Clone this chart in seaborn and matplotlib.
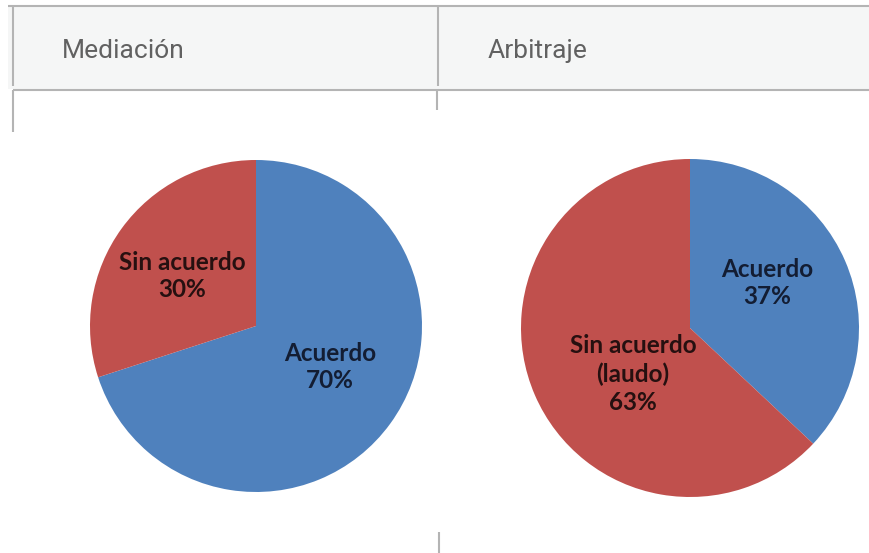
import matplotlib
matplotlib.use("Agg")
import matplotlib.pyplot as plt
import seaborn as sns
from matplotlib.lines import Line2D
from matplotlib.patches import Rectangle

# ---- data ----
panel_titles = ["Mediación", "Arbitraje"]
med_labels = ["Acuerdo", "Sin acuerdo"]
med_values = [70, 30]
arb_labels = ["Acuerdo", "Sin acuerdo\n(laudo)"]
arb_values = [37, 63]

sns.set_style("white")
plt.rcParams["font.family"] = ["Lato", "DejaVu Sans"]

W, H = 869, 553
fig = plt.figure(figsize=(W / 100, H / 100), dpi=100)
fig.patch.set_facecolor("white")

def fx(x):
    return x / W

def fy(y):
    return 1 - y / H

palette = sns.color_palette(["#4F81BD", "#C0504D"])
grid_col = "#b4b4b4"

# header background
fig.add_artist(Rectangle((fx(8), fy(89)), fx(869) - fx(8), fy(7) - fy(89),
                         transform=fig.transFigure, facecolor="#f5f6f6",
                         edgecolor="none", zorder=0))

def hline(y, x0, x1):
    fig.add_artist(Line2D([fx(x0), fx(x1)], [fy(y), fy(y)], transform=fig.transFigure,
                          color=grid_col, lw=1.5, solid_capstyle="butt"))

def vline(x, y0, y1):
    fig.add_artist(Line2D([fx(x), fx(x)], [fy(y0), fy(y1)], transform=fig.transFigure,
                          color=grid_col, lw=1.5, solid_capstyle="butt"))

hline(6, 8, 869)
hline(89.5, 13, 869)
vline(13, 7, 86)
vline(13, 90, 132)
vline(438, 7, 86)
vline(437, 91, 110)
vline(438.5, 532, 553)

# header titles
for title, x in zip(panel_titles, [62, 488]):
    fig.text(fx(x), fy(58), title, ha="left", va="baseline", fontsize=19,
             family=["Roboto", "DejaVu Sans"], color="#616161")

def pie_axes(cx, cy, r):
    ax = fig.add_axes([fx(cx - r), fy(cy + r), (2 * r) / W, (2 * r) / H])
    return ax

label_colors = ["#131d33", "#261010"]

def draw_pie(ax, values, labels, label_pos):
    ax.pie(values, colors=palette, startangle=90, counterclock=False, radius=1,
           wedgeprops=dict(linewidth=0))
    ax.set_xlim(-1, 1)
    ax.set_ylim(-1, 1)
    ax.set_aspect("equal")
    ax.axis("off")
    for lab, v, (px, py), c in zip(labels, values, label_pos, label_colors):
        ax.text(px, py, f"{lab}\n{v}%", ha="center", va="center", fontsize=17.5,
                fontweight="bold", color=c, linespacing=1.25)

ax1 = pie_axes(256, 326, 166)
draw_pie(ax1, med_values, med_labels, [(0.446, -0.247), (-0.446, 0.301)])

ax2 = pie_axes(690, 328, 169)
draw_pie(ax2, arb_values, arb_labels, [(0.456, 0.266), (-0.337, -0.272)])

fig.savefig("out.png", dpi=100)
